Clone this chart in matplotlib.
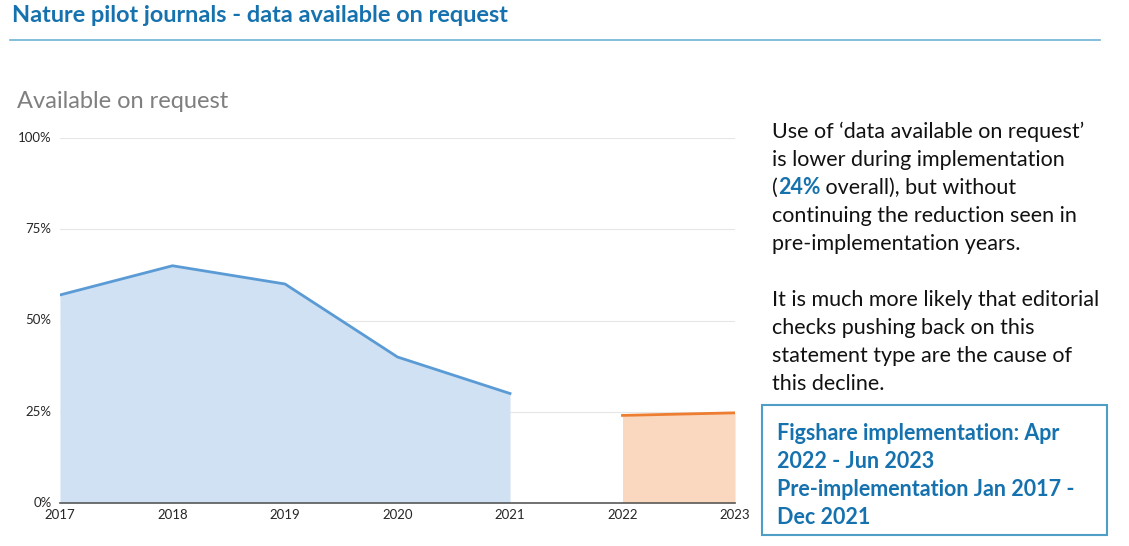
import matplotlib
matplotlib.use("Agg")
import matplotlib.pyplot as plt
import numpy as np

plt.rcParams['font.family'] = ['Lato', 'DejaVu Sans']

# data
pre_years = [2017, 2018, 2019, 2020, 2021]
pre_values = [57, 65, 60, 40, 30]
impl_years = [2022, 2023]
impl_values = [24, 24.7]
year_ticks = [2017, 2018, 2019, 2020, 2021, 2022, 2023]
pct_ticks = [0, 25, 50, 75, 100]

blue_line = '#5b9bd5'
blue_fill = '#cfe1f2'
orange_line = '#ed7d31'
orange_fill = '#fad7bf'
title_blue = '#1572ae'

fig = plt.figure(figsize=(11.29, 5.46), dpi=100)

# header
fig.text(12 / 1129, 1 - 16 / 546, 'Nature pilot journals - data available on request',
         fontsize=16.9, fontweight='bold', color=title_blue, va='center', ha='left')
fig.add_artist(plt.Line2D([10 / 1129, 1100 / 1129], [1 - 40 / 546, 1 - 40 / 546],
                          color='#6db3d6', lw=1.2))

fig.text(17 / 1129, 1 - 102 / 546, 'Available on request', fontsize=17,
         color='#7f7f7f', va='center', ha='left')

ax = fig.add_axes([60 / 1129, 43 / 546, 675 / 1129, 365 / 546])
ax.fill_between(pre_years, pre_values, 0, color=blue_fill, lw=0)
ax.plot(pre_years, pre_values, color=blue_line, lw=2)
ax.fill_between(impl_years, impl_values, 0, color=orange_fill, lw=0)
ax.plot(impl_years, impl_values, color=orange_line, lw=2)

ax.set_xlim(2017, 2023)
ax.set_ylim(0, 100)
ax.set_yticks(pct_ticks)
ax.set_yticklabels([f'{p}%' for p in pct_ticks])
ax.set_xticks(year_ticks)
ax.set_xticklabels([str(y) for y in year_ticks])
ax.grid(axis='y', color='#e6e6e6', lw=0.8)
ax.set_axisbelow(True)
for s in ['top', 'right', 'left']:
    ax.spines[s].set_visible(False)
ax.spines['bottom'].set_color('#595959')
ax.spines['bottom'].set_linewidth(1.2)
ax.spines['bottom'].set_zorder(5)
ax.tick_params(length=0, labelsize=9.5, colors='#262626')
ax.tick_params(axis='x', pad=4)
ax.tick_params(axis='y', pad=6)
for lbl in ax.get_yticklabels():
    lbl.set_verticalalignment('center')

# right-hand commentary
tx = 772 / 1129
fs = 15.5
lines1 = ["Use of \u2018data available on request\u2019",
          "is lower during implementation"]
y0 = 132
step = 28
for i, line in enumerate(lines1):
    fig.text(tx, 1 - (y0 + i * step) / 546, line, fontsize=fs, color='#111111',
             va='center', ha='left')
yl = 1 - (y0 + 2 * step) / 546
t1 = fig.text(tx, yl, '(', fontsize=fs, color='#111111', va='center', ha='left')
t2 = fig.text(0, 0, '24%', fontsize=fs, color=title_blue, fontweight='bold')
t3 = fig.text(0, 0, ' overall), but without', fontsize=fs, color='#111111')
fig.canvas.draw()
r = fig.canvas.get_renderer()
inv = fig.transFigure.inverted()
b1 = t1.get_window_extent(r)
x2 = inv.transform((b1.x1, 0))[0]
t2.set_position((x2, yl))
t2.set_va('center')
b2 = t2.get_window_extent(r)
x3 = inv.transform((b2.x1, 0))[0]
t3.set_position((x3, yl))
t3.set_va('center')

lines2 = ["continuing the reduction seen in",
          "pre-implementation years.",
          "",
          "It is much more likely that editorial",
          "checks pushing back on this",
          "statement type are the cause of",
          "this decline."]
for i, line in enumerate(lines2):
    fig.text(tx, 1 - (y0 + (3 + i) * step) / 546, line, fontsize=fs, color='#111111',
             va='center', ha='left')

# box with period info
box = plt.Rectangle((762 / 1129, 1 - 535 / 546), 345 / 1129, 130 / 546,
                    transform=fig.transFigure, fill=False, edgecolor='#4f9ec6', lw=1.5)
fig.add_artist(box)
box_lines = ["Figshare implementation: Apr",
             "2022 - Jun 2023",
             "Pre-implementation Jan 2017 -",
             "Dec 2021"]
for i, line in enumerate(box_lines):
    fig.text(777 / 1129, 1 - (433 + i * 28) / 546, line, fontsize=15.5, color=title_blue,
             fontweight='bold', va='center', ha='left')

fig.savefig('out.png', dpi=100)
